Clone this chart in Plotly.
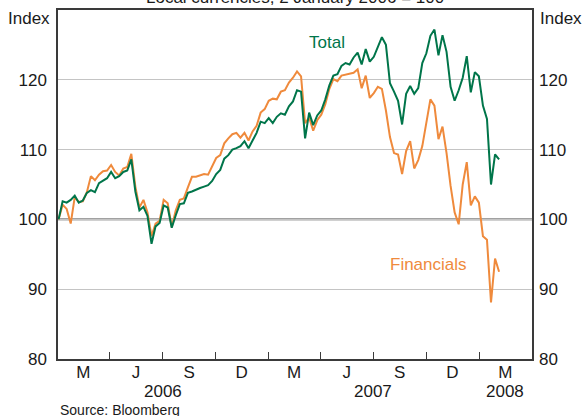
import pandas as pd
import plotly.graph_objects as go

# Weekly observations, 2 January 2006 = 100
dates = pd.date_range("2006-01-02", periods=110, freq="7D")

total = [
    100.0, 102.6, 102.4, 102.8, 103.4, 102.4, 102.7, 103.8, 104.2, 103.9,
    105.2, 105.5, 105.9, 106.8, 105.9, 106.2, 106.8, 107.0, 108.6, 104.0,
    101.3, 101.8, 100.5, 96.5, 99.0, 99.5, 102.0, 101.7, 98.8, 100.6,
    102.2, 102.3, 103.8, 104.0, 104.3, 104.5, 104.7, 104.9, 105.5, 106.5,
    107.1, 108.7, 109.2, 110.0, 110.2, 110.5, 111.2, 110.2, 111.3, 112.4,
    114.0, 113.8, 114.5, 113.8, 114.7, 115.2, 115.0, 116.2, 116.9, 118.5,
    118.3, 111.6, 115.3, 113.5, 114.9, 115.6, 117.2, 119.2, 120.6, 120.8,
    122.0, 122.4, 122.2, 123.2, 123.9, 122.2, 124.4, 122.6, 123.3, 124.8,
    126.1, 125.0, 119.5, 118.3, 117.0, 113.6, 118.0, 119.1, 118.0, 118.8,
    122.4, 123.8, 126.3, 127.2, 123.5, 126.4, 124.0, 119.0, 117.0, 118.5,
    120.3, 123.4, 118.2, 121.1, 120.5, 116.3, 114.4, 105.0, 109.3, 108.6,
]

financials = [
    100.0, 102.1, 101.5, 99.4, 103.2, 102.5, 102.6, 103.9, 106.2, 105.6,
    106.4, 106.9, 107.0, 107.8, 106.8, 106.3, 107.3, 107.5, 109.4, 104.7,
    101.7, 102.8, 101.0, 97.6, 99.4, 99.8, 102.8, 102.3, 98.9, 101.3,
    102.8, 103.0, 104.6, 106.1, 106.1, 106.3, 106.5, 106.4, 107.6, 108.8,
    109.2, 110.9, 111.6, 112.2, 112.4, 111.7, 112.4, 111.3, 112.6, 113.4,
    115.3, 115.8, 117.0, 117.3, 117.2, 118.3, 118.5, 119.6, 120.3, 121.2,
    120.5, 113.8, 114.6, 112.7, 114.2, 115.0, 116.5, 118.7, 120.1, 119.8,
    120.6, 120.7, 120.8, 121.0, 121.5, 118.8, 120.6, 117.4, 118.1, 119.0,
    118.7, 115.6, 111.8, 109.5, 109.3, 106.5, 109.8, 111.2, 107.3, 108.5,
    110.5, 114.2, 117.2, 116.3, 111.5, 113.3, 109.5, 104.8, 101.0, 99.3,
    105.0, 108.2, 102.0, 103.3, 102.4, 97.6, 97.1, 88.1, 94.4, 92.5,
]

quarter_marks = ["2006-04-01", "2006-07-01", "2006-10-01", "2007-01-01",
                 "2007-04-01", "2007-07-01", "2007-10-01", "2008-01-01"]
quarter_label_pos = ["2006-02-14", "2006-05-16", "2006-08-16", "2006-11-15",
                     "2007-02-14", "2007-05-16", "2007-08-16", "2007-11-15",
                     "2008-02-15"]
quarter_labels = ["M", "J", "S", "D", "M", "J", "S", "D", "M"]
year_pos = ["2006-07-01", "2007-07-01", "2008-02-15"]
year_labels = ["2006", "2007", "2008"]
y_ticks = [80, 90, 100, 110, 120]

GREEN = "#00754a"
ORANGE = "#ef8a3c"
FONT = "Liberation Sans, Arial, sans-serif"
TXT = "#1a1a1a"

fig = go.Figure()
fig.add_trace(go.Scatter(x=dates, y=financials, mode="lines",
                         line=dict(color=ORANGE, width=2), name="Financials"))
fig.add_trace(go.Scatter(x=dates, y=total, mode="lines",
                         line=dict(color=GREEN, width=2), name="Total"))
# invisible trace to activate the right-hand axis
fig.add_trace(go.Scatter(x=[dates[0]], y=[100], yaxis="y2", mode="lines",
                         line=dict(width=0), showlegend=False, hoverinfo="skip"))

fig.update_layout(
    width=582, height=416,
    margin=dict(l=58, r=50, t=10, b=57, autoexpand=False),
    paper_bgcolor="white", plot_bgcolor="white",
    showlegend=False,
    font=dict(family=FONT, size=17, color=TXT),
    xaxis=dict(
        type="date", range=["2006-01-01", "2008-04-01"], automargin=False,
        tickmode="array", tickvals=quarter_label_pos, ticktext=quarter_labels,
        ticks="", ticklabelstandoff=-3, showgrid=False, zeroline=False,
        showline=True, linecolor="#3a3a3a", linewidth=1.5, mirror=True,
        tickfont=dict(size=17, color=TXT),
        minor=dict(tickmode="array", tickvals=quarter_marks, ticks="inside",
                   ticklen=7, tickwidth=1, tickcolor="#3a3a3a", showgrid=False),
    ),
    yaxis=dict(
        range=[80, 130], tickmode="array", tickvals=y_ticks, automargin=False,
        ticks="", ticklabelstandoff=6,
        showgrid=True, gridcolor="#c4c4c4", gridwidth=1, zeroline=False,
        showline=True, linecolor="#3a3a3a", linewidth=1.5, mirror=True,
        tickfont=dict(size=17, color=TXT),
    ),
    yaxis2=dict(
        range=[80, 130], overlaying="y", side="right", automargin=False,
        tickmode="array", tickvals=y_ticks, ticks="", ticklabelstandoff=6,
        showgrid=False, zeroline=False, showline=False,
        tickfont=dict(size=17, color=TXT),
    ),
)

fig.add_shape(type="line", xref="paper", yref="y", x0=0, x1=1, y0=100, y1=100,
              line=dict(color="#444444", width=1.6), layer="below")

ann = [
    dict(text="Index", xref="paper", yref="paper", x=-0.012, y=0.975,
         xanchor="right", yanchor="middle", showarrow=False),
    dict(text="Index", xref="paper", yref="paper", x=1.012, y=0.975,
         xanchor="left", yanchor="middle", showarrow=False),
    dict(text="Local currencies, 2 January 2006 = 100", xref="paper",
         yref="paper", x=0.5, y=1.037, xanchor="center", yanchor="middle",
         showarrow=False),
    dict(text="Total", xref="x", yref="y", x="2007-04-12", y=125.4,
         showarrow=False, font=dict(color=GREEN, size=17)),
    dict(text="Financials", xref="x", yref="y", x="2007-10-05", y=93.6,
         showarrow=False, font=dict(color=ORANGE, size=17)),
    dict(text="Source: Bloomberg", xref="paper", yref="paper", x=0, y=-0.146,
         xanchor="left", yanchor="middle", showarrow=False,
         font=dict(size=14, color=TXT)),
]
for xp, yl in zip(year_pos, year_labels):
    ann.append(dict(text=yl, xref="x", yref="paper", x=xp, y=-0.094,
                    xanchor="center", yanchor="middle", showarrow=False,
                    font=dict(size=17, color=TXT)))
fig.update_layout(annotations=ann)

fig.write_html("out.html",
               config={"displayModeBar": False},
               post_script="document.body.style.margin='0';"
                           "document.body.style.overflow='hidden';")
